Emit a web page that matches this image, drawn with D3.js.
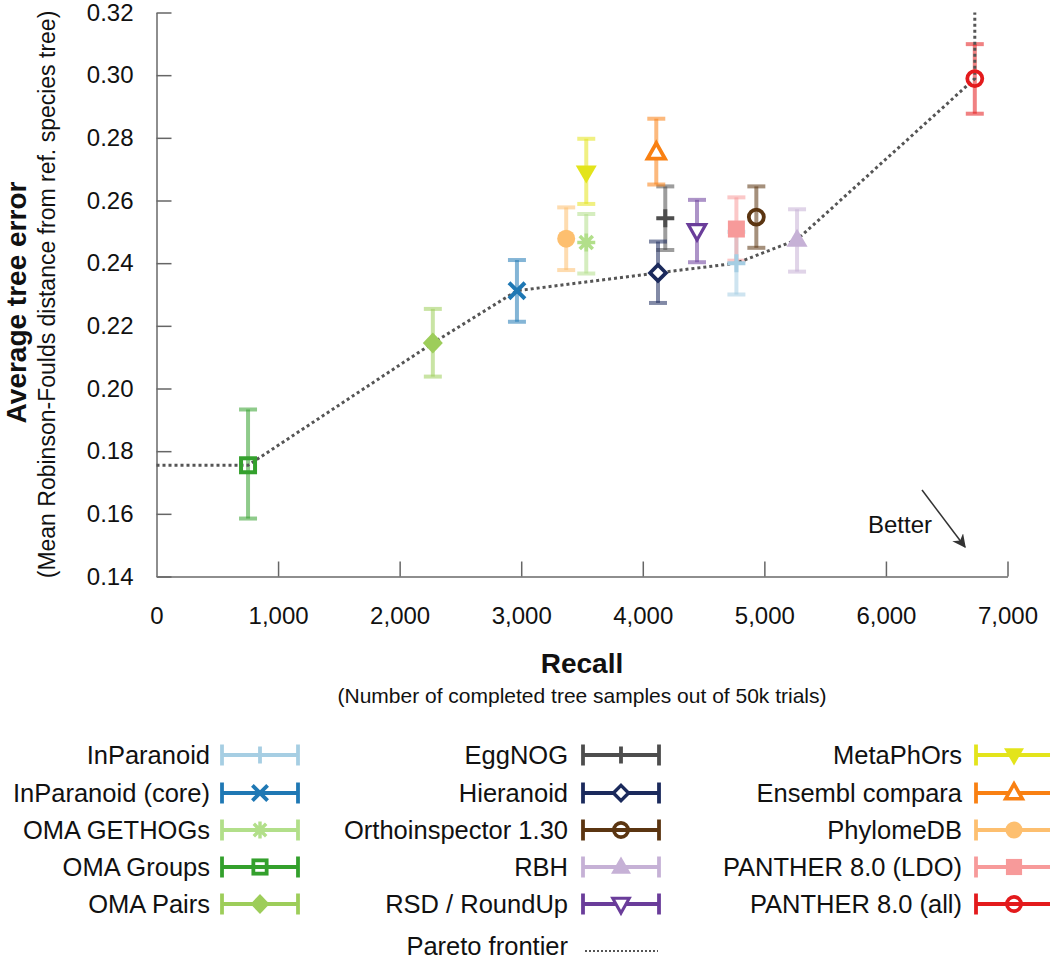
<!DOCTYPE html>
<html>
<head>
<meta charset="utf-8">
<script src="https://cdn.jsdelivr.net/npm/d3@7"></script>
<style>
  html, body { margin: 0; padding: 0; background: #fff; }
  svg { display: block; font-family: "Liberation Sans", Arial, Helvetica, sans-serif; }
</style>
</head>
<body>
<svg id="chart" width="1050" height="964"></svg>
<script>
// ---------------- data ----------------
const methods = ["InParanoid","InParanoid (core)","OMA GETHOGs","OMA Groups","OMA Pairs",
  "EggNOG","Hieranoid","Orthoinspector 1.30","RBH","RSD / RoundUp",
  "MetaPhOrs","Ensembl compara","PhylomeDB","PANTHER 8.0 (LDO)","PANTHER 8.0 (all)"];
const recall    = [4770, 2965, 3535,  753, 2273, 4185, 4125, 4934, 5269, 4446, 3535, 4111, 3370, 4770, 6731];
const treeError = [0.2400,0.2312,0.2466,0.1755,0.2145,0.2543,0.2369,0.2547,0.2475,0.2504,0.2689,0.2753,0.2478,0.2509,0.2989];
const errLow    = [0.2300,0.2213,0.2367,0.1585,0.2038,0.2442,0.2273,0.2449,0.2373,0.2403,0.2589,0.2651,0.2378,0.2408,0.2877];
const errHigh   = [0.2500,0.2410,0.2557,0.1933,0.2254,0.2645,0.2469,0.2645,0.2572,0.2602,0.2797,0.2861,0.2578,0.2610,0.3099];
const colors    = ["#a6cee3","#1f78b4","#b2df8a","#33a02c","#9dcd5a","#4d4d4d","#1b2a5c","#5b3511","#c6b1d6","#6a3d9a","#e3e41b","#f98012","#fdbf6f","#f79a9a","#e31a1c"];
const shapes    = ["plus","x","asterisk","squareOpen","diamond","plus","diamondOpen","circleOpen","triUp","triDownOpen","triDown","triUpOpen","circle","square","circleOpen"];
const legendColumns = [
  ["InParanoid","InParanoid (core)","OMA GETHOGs","OMA Groups","OMA Pairs"],
  ["EggNOG","Hieranoid","Orthoinspector 1.30","RBH","RSD / RoundUp"],
  ["MetaPhOrs","Ensembl compara","PhylomeDB","PANTHER 8.0 (LDO)","PANTHER 8.0 (all)"]
];
const paretoRecall = [0, 753, 2273, 2965, 4125, 4770, 5269, 6731, 6731];
const paretoError  = [0.1755,0.1755,0.2145,0.2312,0.2369,0.2400,0.2475,0.2989,0.32];
const xTicks = [0,1000,2000,3000,4000,5000,6000,7000];
const yTicks = [0.14,0.16,0.18,0.20,0.22,0.24,0.26,0.28,0.30,0.32];

// ---------------- layout ----------------
const svg = d3.select("#chart");
const x = d3.scaleLinear().domain([0, 7000]).range([156.5, 1007.5]);
const y = d3.scaleLinear().domain([0.14, 0.32]).range([576.5, 12.5]);
const fmtX = d3.format(",");
const fmtY = d3.format(".2f");

// axes
const gx = svg.append("g").attr("transform", `translate(0,${y(0.14)})`)
  .call(d3.axisBottom(x).tickValues(xTicks).tickFormat(fmtX).tickSize(-15).tickSizeOuter(0).tickPadding(30));
const gy = svg.append("g").attr("transform", `translate(${x(0)},0)`)
  .call(d3.axisLeft(y).tickValues(yTicks).tickFormat(fmtY).tickSize(-15).tickSizeOuter(0).tickPadding(23));
[gx, gy].forEach(g => {
  g.select(".domain").attr("stroke", "#8e8e8e").attr("stroke-width", 2);
  g.selectAll(".tick line").attr("stroke", "#666").attr("stroke-width", 1.5);
  g.selectAll(".tick text").attr("font-size", 24).attr("fill", "#111")
    .attr("font-family", '"Liberation Sans", Arial, sans-serif');
});

// axis titles
const midY = (y(0.14) + y(0.32)) / 2;
const midX = (x(0) + x(7000)) / 2;
svg.append("text").attr("transform", `translate(25.5,${midY + 8}) rotate(-90)`)
  .attr("text-anchor", "middle").attr("font-size", 28).attr("font-weight", "bold").attr("fill", "#111")
  .text("Average tree error");
svg.append("text").attr("transform", `translate(55,${midY}) rotate(-90)`)
  .attr("text-anchor", "middle").attr("font-size", 23).attr("fill", "#111")
  .text("(Mean Robinson-Foulds distance from ref. species tree)");
svg.append("text").attr("x", midX).attr("y", 673)
  .attr("text-anchor", "middle").attr("font-size", 28).attr("font-weight", "bold").attr("fill", "#111")
  .text("Recall");
svg.append("text").attr("x", midX).attr("y", 703)
  .attr("text-anchor", "middle").attr("font-size", 21).attr("fill", "#111")
  .text("(Number of completed tree samples out of 50k trials)");

// ---------------- markers ----------------
function drawMarker(g, shape, color, s) {
  const sw = 3.6 * s;
  switch (shape) {
    case "plus":
      g.append("path").attr("d", `M${-9*s},0H${9*s}M0,${-9*s}V${9*s}`).attr("stroke", color).attr("stroke-width", 4*s).attr("fill", "none"); break;
    case "x":
      g.append("path").attr("d", `M${-8*s},${-8*s}L${8*s},${8*s}M${-8*s},${8*s}L${8*s},${-8*s}`).attr("stroke", color).attr("stroke-width", 4*s).attr("fill", "none"); break;
    case "asterisk":
      g.append("path").attr("d", `M${-9*s},0H${9*s}M0,${-9*s}V${9*s}M${-6.5*s},${-6.5*s}L${6.5*s},${6.5*s}M${-6.5*s},${6.5*s}L${6.5*s},${-6.5*s}`)
        .attr("stroke", color).attr("stroke-width", sw).attr("fill", "none"); break;
    case "squareOpen":
      g.append("rect").attr("x", -7*s).attr("y", -7*s).attr("width", 14*s).attr("height", 14*s)
        .attr("stroke", color).attr("stroke-width", 4*s).attr("fill", "none"); break;
    case "square":
      g.append("rect").attr("x", -8.5*s).attr("y", -8.5*s).attr("width", 17*s).attr("height", 17*s).attr("fill", color); break;
    case "diamond":
      g.append("path").attr("d", `M0,${-10.5*s}L${10*s},0L0,${10.5*s}L${-10*s},0Z`).attr("fill", color); break;
    case "diamondOpen":
      g.append("path").attr("d", `M0,${-8*s}L${8*s},0L0,${8*s}L${-8*s},0Z`).attr("fill", "#fff").attr("stroke", color).attr("stroke-width", sw); break;
    case "circle":
      g.append("circle").attr("r", 9*s).attr("fill", color); break;
    case "circleOpen":
      g.append("circle").attr("r", 7.5*s).attr("fill", "none").attr("stroke", color).attr("stroke-width", 3.8*s); break;
    case "triUp":
      g.append("path").attr("d", `M0,${-11*s}L${10.5*s},${7*s}L${-10.5*s},${7*s}Z`).attr("fill", color); break;
    case "triDown":
      g.append("path").attr("d", `M0,${11*s}L${10.5*s},${-7*s}L${-10.5*s},${-7*s}Z`).attr("fill", color); break;
    case "triUpOpen":
      g.append("path").attr("d", `M0,${-9.5*s}L${8.7*s},${6*s}L${-8.7*s},${6*s}Z`).attr("fill", "#fff").attr("stroke", color).attr("stroke-width", 3.8*s).attr("stroke-linejoin", "miter"); break;
    case "triDownOpen":
      g.append("path").attr("d", `M0,${9.5*s}L${8.7*s},${-6*s}L${-8.7*s},${-6*s}Z`).attr("fill", "#fff").attr("stroke", color).attr("stroke-width", 3.2*s).attr("stroke-linejoin", "miter"); break;
  }
}

const idx = d3.range(methods.length);

// error bars
const eb = svg.append("g").attr("class", "errorbars");
idx.forEach(i => {
  const g = eb.append("g").attr("stroke", colors[i]).attr("stroke-opacity", 0.55).attr("stroke-width", 4).attr("fill", "none");
  const cx = x(recall[i]);
  g.append("line").attr("x1", cx).attr("x2", cx).attr("y1", y(errLow[i])).attr("y2", y(errHigh[i]));
  g.append("line").attr("x1", cx - 9).attr("x2", cx + 9).attr("y1", y(errLow[i])).attr("y2", y(errLow[i]));
  g.append("line").attr("x1", cx - 9).attr("x2", cx + 9).attr("y1", y(errHigh[i])).attr("y2", y(errHigh[i]));
});

// pareto frontier
const line = d3.line().x(d => x(d[0])).y(d => y(d[1]));
svg.append("path").datum(d3.zip(paretoRecall, paretoError)).attr("d", line)
  .attr("fill", "none").attr("stroke", "#555").attr("stroke-width", 3).attr("stroke-dasharray", "3,3");

// markers
const mk = svg.append("g").attr("class", "markers");
idx.forEach(i => {
  const g = mk.append("g").attr("transform", `translate(${x(recall[i])},${y(treeError[i])})`);
  drawMarker(g, shapes[i], colors[i], 1);
});

// "Better" annotation
const defs = svg.append("defs");
defs.append("marker").attr("id", "arrow").attr("viewBox", "0 0 10 10").attr("refX", 9).attr("refY", 5)
  .attr("markerWidth", 9).attr("markerHeight", 9).attr("orient", "auto-start-reverse")
  .append("path").attr("d", "M0,0L10,5L0,10L3,5Z").attr("fill", "#333");
svg.append("line").attr("x1", 922).attr("y1", 490).attr("x2", 965).attr("y2", 547)
  .attr("stroke", "#333").attr("stroke-width", 1.5).attr("marker-end", "url(#arrow)");
svg.append("text").attr("x", 900).attr("y", 533).attr("text-anchor", "middle").attr("font-size", 24).attr("fill", "#111").text("Better");

// ---------------- legend ----------------
const colTextRight = [210, 568, 962];
const colSymStart = [222, 583, 976];
const symWidth = 76;
const rowY = [755, 793, 830, 867, 904];
const lg = svg.append("g").attr("class", "legend");
legendColumns.forEach((col, c) => {
  col.forEach((name, r) => {
    const i = methods.indexOf(name);
    const yy = rowY[r];
    lg.append("text").attr("x", colTextRight[c]).attr("y", yy).attr("dy", "0.35em")
      .attr("text-anchor", "end").attr("font-size", 25.5).attr("fill", "#111").text(name);
    const g = lg.append("g").attr("stroke", colors[i]).attr("stroke-width", 3.8).attr("fill", "none");
    const x1 = colSymStart[c], x2 = x1 + symWidth;
    g.append("line").attr("x1", x1).attr("x2", x2).attr("y1", yy).attr("y2", yy);
    g.append("line").attr("x1", x1).attr("x2", x1).attr("y1", yy - 10.5).attr("y2", yy + 10.5);
    g.append("line").attr("x1", x2).attr("x2", x2).attr("y1", yy - 10.5).attr("y2", yy + 10.5);
    const m = lg.append("g").attr("transform", `translate(${(x1 + x2) / 2},${yy})`);
    drawMarker(m, shapes[i], colors[i], 0.95);
  });
});
// pareto legend
lg.append("text").attr("x", 568).attr("y", 946).attr("dy", "0.35em").attr("text-anchor", "end")
  .attr("font-size", 25.5).attr("fill", "#111").text("Pareto frontier");
lg.append("line").attr("x1", 585).attr("x2", 658).attr("y1", 951).attr("y2", 951)
  .attr("stroke", "#555").attr("stroke-width", 2).attr("stroke-dasharray", "2,2");
</script>
</body>
</html>
